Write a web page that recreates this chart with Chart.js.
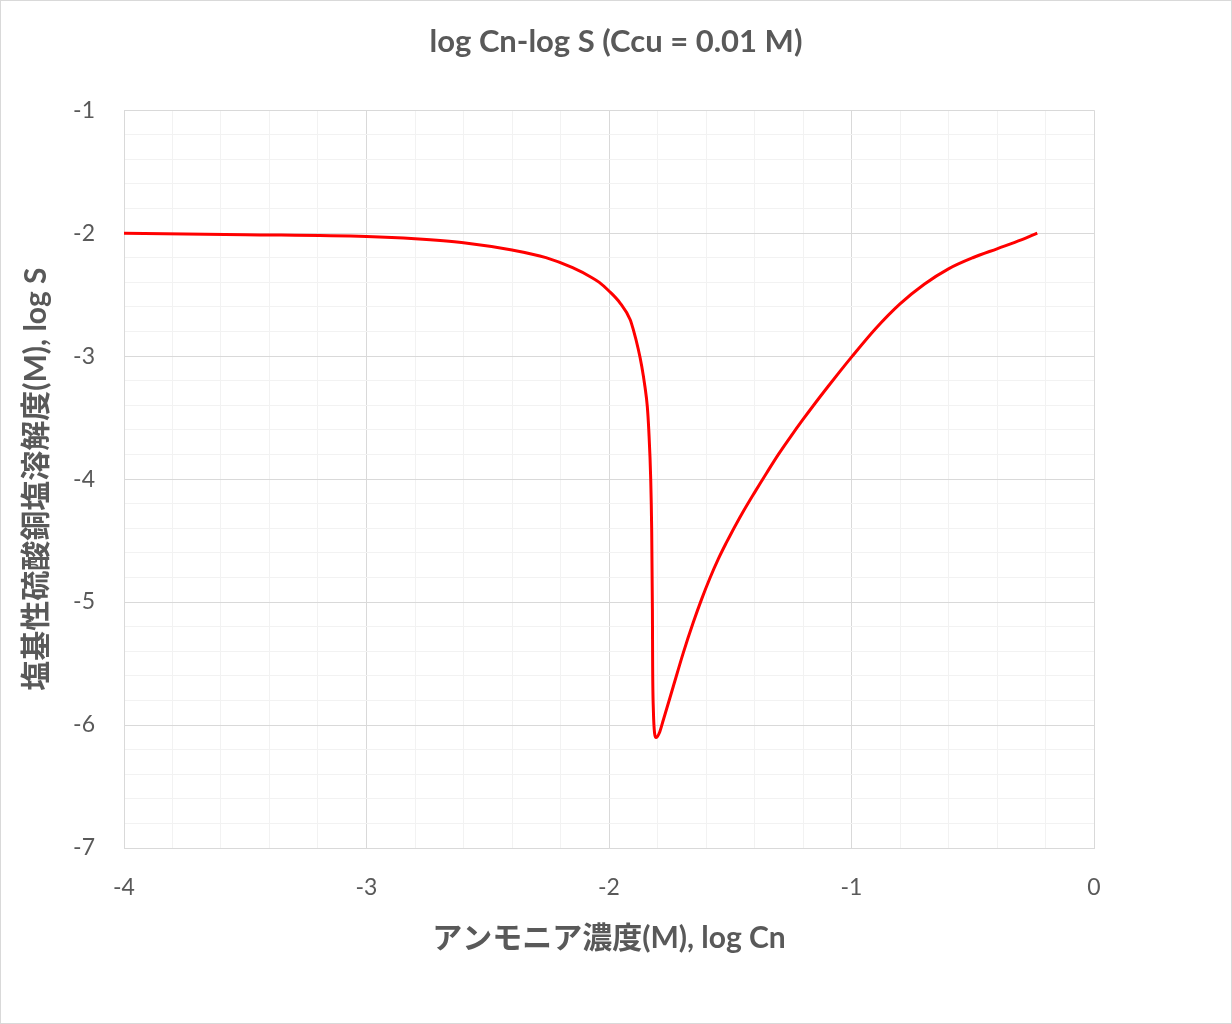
<!DOCTYPE html>
<html>
<head>
<meta charset="utf-8">
<script src="https://cdn.jsdelivr.net/npm/chart.js@4.4.1/dist/chart.umd.min.js"></script>
<style>
  html, body { margin: 0; padding: 0; background: #fff; }
  canvas { display: block; }
</style>
</head>
<body>
<canvas id="chart" width="1232" height="1024" style="width:1232px;height:1024px"></canvas>
<script>
// log Cn (x) vs log S (y)
const logCn = [
  -4.0, -3.5, -3.0, -2.8, -2.6, -2.4, -2.26, -2.15, -2.07, -2.04,
  -2.0, -1.955, -1.913, -1.9, -1.879, -1.865, -1.852, -1.842, -1.836, -1.828,
  -1.824, -1.821, -1.820, -1.817, -1.812, -1.806, -1.793, -1.776, -1.735, -1.694,
  -1.652, -1.618, -1.584, -1.55, -1.515, -1.5, -1.45, -1.4, -1.35, -1.3,
  -1.25, -1.2, -1.15, -1.1, -1.05, -1.0, -0.9, -0.8, -0.7, -0.6,
  -0.5, -0.4, -0.3, -0.234
];
const logS = [
  -2.0, -2.012, -2.027, -2.045, -2.077, -2.137, -2.199, -2.281, -2.362, -2.40,
  -2.47, -2.566, -2.702, -2.783, -2.946, -3.082, -3.245, -3.41, -3.6, -4.0,
  -4.41, -5.06, -5.52, -5.88, -6.067, -6.102, -6.067, -5.959, -5.687, -5.415,
  -5.163, -4.976, -4.806, -4.653, -4.513, -4.456, -4.276, -4.11, -3.95, -3.795,
  -3.652, -3.515, -3.383, -3.255, -3.13, -3.008, -2.775, -2.575, -2.415, -2.29,
  -2.2, -2.127, -2.055, -2.0
];

const CHART_TITLE = "log Cn-log S (Ccu = 0.01 M)";
const X_TITLE = "アンモニア濃度(M), log Cn";
const Y_TITLE = "塩基性硫酸銅塩溶解度(M), log S";

const TEXT = "#595959";
const GRID_MAJOR = "#d9d9d9";
const GRID_MINOR = "#f2f2f2";
const FONT = "Lato, 'Noto Sans CJK JP', sans-serif";

function isMajor(v) { return Math.abs(v - Math.round(v)) < 1e-6; }

const gridColor = (ctx) => isMajor(ctx.tick.value) ? GRID_MAJOR : GRID_MINOR;
const tickLabel = (v) => isMajor(v) ? String(Math.round(v)) : "";

// light frame round the whole picture
const frame = {
  id: "frame",
  afterDraw(chart) {
    const c = chart.ctx;
    c.save();
    c.strokeStyle = GRID_MAJOR;
    c.lineWidth = 1;
    c.strokeRect(0.5, 0.5, chart.width - 1, chart.height - 1);
    c.restore();
  }
};

new Chart(document.getElementById("chart"), {
  type: "line",
  data: {
    datasets: [{
      label: "log S",
      data: logCn.map((x, i) => ({ x, y: logS[i] })),
      borderColor: "#FF0000",
      borderWidth: 3,
      pointRadius: 0,
      fill: false,
      cubicInterpolationMode: "monotone",
    }]
  },
  options: {
    responsive: false,
    devicePixelRatio: 1,
    animation: false,
    layout: { padding: 0 },
    plugins: {
      legend: { display: false },
      tooltip: { enabled: false },
      title: {
        display: true,
        text: CHART_TITLE,
        color: TEXT,
        font: { family: FONT, size: 31, weight: "bold" },
        padding: { top: 23, bottom: 50 }
      }
    },
    scales: {
      x: {
        type: "linear",
        min: -4, max: 0,
        afterFit(scale) { scale.height = 176; },
        grid: { color: gridColor, lineWidth: 1, drawTicks: false },
        border: { color: GRID_MAJOR },
        ticks: {
          stepSize: 0.2, autoSkip: false, maxRotation: 0,
          color: TEXT, padding: 26,
          font: { family: FONT, size: 23 },
          callback: tickLabel
        },
        title: {
          display: true, text: X_TITLE, color: TEXT,
          font: { family: FONT, size: 30, weight: "bold" },
          padding: { top: 0, bottom: 68 }
        }
      },
      y: {
        type: "linear",
        min: -7, max: -1,
        afterFit(scale) { scale.width = 124; },
        grid: { color: gridColor, lineWidth: 1, drawTicks: false },
        border: { color: GRID_MAJOR },
        ticks: {
          stepSize: 0.2, autoSkip: false,
          color: TEXT, padding: 29,
          font: { family: FONT, size: 23 },
          callback: tickLabel
        },
        title: {
          display: true, text: Y_TITLE, color: TEXT,
          font: { family: FONT, size: 30, weight: "bold" },
          padding: { top: 18, bottom: 0 }
        }
      },
      // empty right margin so the title centres on the whole picture
      yPad: {
        position: "right",
        afterFit(scale) { scale.width = 138; },
        grid: { display: false },
        border: { display: false },
        ticks: { display: false }
      }
    }
  },
  plugins: [frame]
});
</script>
</body>
</html>
